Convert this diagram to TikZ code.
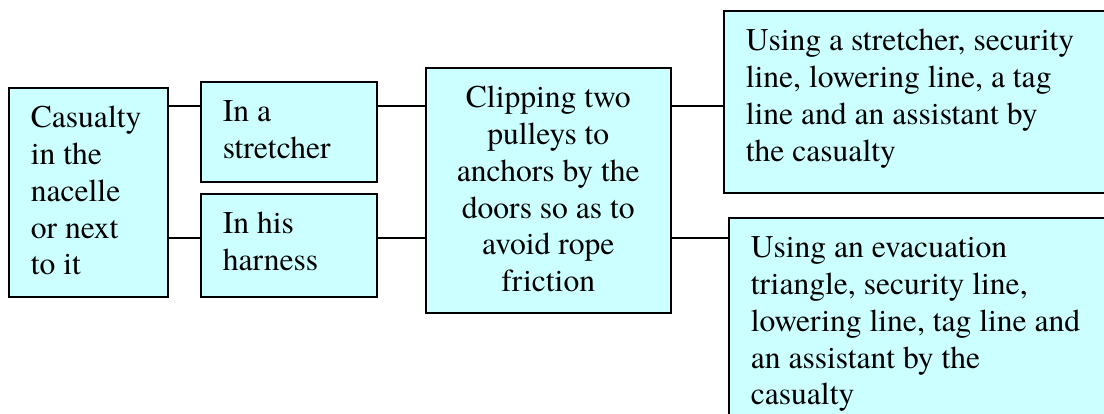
\documentclass[tikz,border=0pt]{standalone}
\usepackage{fontspec}
\setmainfont{texgyretermes}[Extension=.otf, UprightFont=*-regular, BoldFont=*-bold]
\definecolor{boxfill}{HTML}{CCFFFF}
\newcommand{\bxt}[3]{\parbox[c][#1][t]{#2}{\raggedright\rule{0pt}{40pt}#3}}
\newcommand{\bxc}[3]{\parbox[c][#1][t]{#2}{\centering\rule{0pt}{40pt}#3}}
\tikzset{
  cbox/.style={draw=black, line width=1.6pt, fill=boxfill, anchor=north west,
    inner xsep=22pt, inner ysep=0pt, font=\fontsize{31.6}{36.8}\selectfont},
  link/.style={draw=black, line width=1.4pt}
}
\begin{document}
\begin{tikzpicture}[x=1pt, y=-1pt]
\useasboundingbox (0,0) rectangle (1104,414);
\begin{scope}
\clip (0,0) rectangle (1104,414);
\node[cbox] (A) at (8,87) {\bxt{209pt}{115pt}{Casualty\\in the\\nacelle\\or next\\to it}};
\node[cbox] (B) at (200,81) {\bxt{100pt}{132pt}{In a\\stretcher}};
\node[cbox] (C) at (200,193) {\bxt{103pt}{132pt}{In his\\harness}};
\node[cbox] (D) at (425,67) {\bxc{245pt}{201pt}{Clipping two\\pulleys to\\anchors by the\\doors so as to\\avoid rope\\friction}};
\node[cbox] (E) at (723,10) {\bxt{182pt}{370pt}{Using a stretcher, security\\line, lowering line, a tag\\line and an assistant by\\the casualty}};
\node[cbox] (F) at (728,217) {\bxt{220pt}{370pt}{Using an evacuation\\triangle, security line,\\lowering line, tag line and\\an assistant by the\\casualty}};
\coordinate (r1) at (0,106);
\coordinate (r2) at (0,238);
\draw[link] (A.east |- r1) -- (B.west |- r1);
\draw[link] (B.east |- r1) -- (D.west |- r1);
\draw[link] (D.east |- r1) -- (E.west |- r1);
\draw[link] (A.east |- r2) -- (C.west |- r2);
\draw[link] (C.east |- r2) -- (D.west |- r2);
\draw[link] (D.east |- r2) -- (F.west |- r2);
\end{scope}
\end{tikzpicture}
\end{document}
